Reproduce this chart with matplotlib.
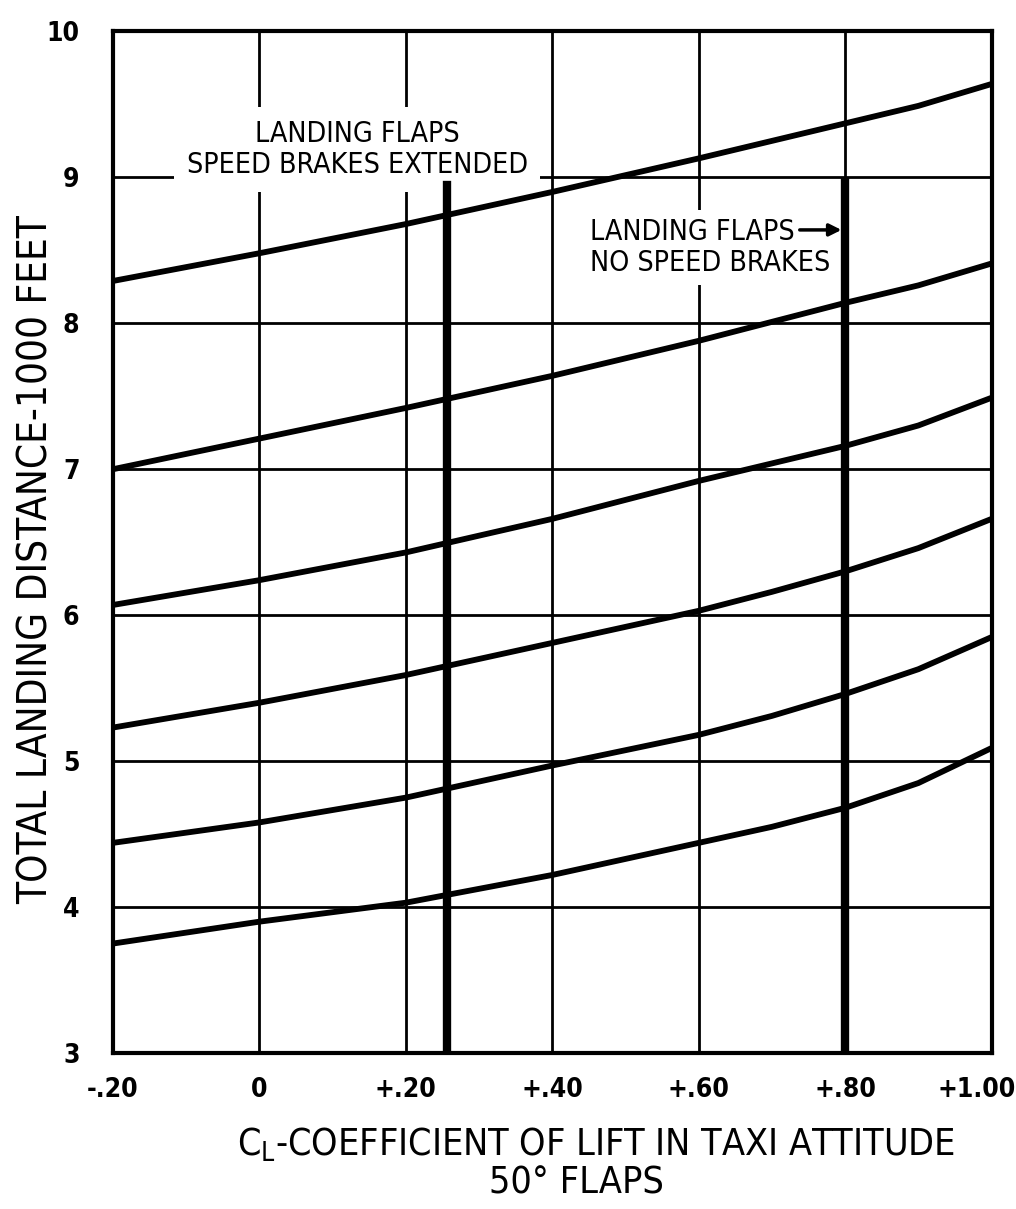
import matplotlib
matplotlib.use("Agg")
import matplotlib.pyplot as plt
from matplotlib.transforms import ScaledTranslation

plt.rcParams["font.family"] = ["DejaVu Sans"]
plt.rcParams["font.stretch"] = "condensed"

# lift coefficient in taxi attitude (x) and landing distance, 1000 ft (y)
cl = [-0.20, 0.0, 0.20, 0.40, 0.60, 0.70, 0.80, 0.90, 1.00]
dist_a = [8.29, 8.48, 8.68, 8.90, 9.13, 9.25, 9.37, 9.49, 9.64]
dist_b = [7.00, 7.21, 7.42, 7.64, 7.88, 8.01, 8.14, 8.26, 8.41]
dist_c = [6.07, 6.24, 6.43, 6.66, 6.92, 7.04, 7.16, 7.30, 7.49]
dist_d = [5.23, 5.40, 5.59, 5.81, 6.03, 6.16, 6.30, 6.46, 6.66]
dist_e = [4.44, 4.58, 4.75, 4.97, 5.18, 5.31, 5.46, 5.63, 5.85]
dist_f = [3.75, 3.90, 4.03, 4.22, 4.44, 4.55, 4.68, 4.85, 5.09]

# operating CL for the two landing configurations
cl_brakes = 0.257
cl_no_brakes = 0.80
marker_top = [8.95, 8.97]

x_ticks = [-0.20, 0.0, 0.20, 0.40, 0.60, 0.80, 1.00]
x_labels = ["-.20", "0", "+.20", "+.40", "+.60", "+.80", "+1.00"]
y_ticks = [3, 4, 5, 6, 7, 8, 9, 10]

fig = plt.figure(figsize=(10.16, 12.09), dpi=100)
ax = fig.add_axes([0.111, 0.129, 0.865, 0.845])

for d in (dist_a, dist_b, dist_c, dist_d, dist_e, dist_f):
    ax.plot(cl, d, color="black", lw=4.2, solid_capstyle="butt",
            solid_joinstyle="round", zorder=4)

ax.plot([cl_brakes, cl_brakes], [3, marker_top[0]], color="black", lw=6, zorder=5)
ax.plot([cl_no_brakes, cl_no_brakes], [3, marker_top[1]], color="black", lw=6, zorder=5)

ax.set_xlim(-0.20, 1.00)
ax.set_ylim(3, 10)
ax.set_xticks(x_ticks)
ax.set_xticklabels(x_labels)
ax.set_yticks(y_ticks)
ax.tick_params(length=0, labelsize=19)
ax.tick_params(axis="x", pad=17)
ax.tick_params(axis="y", pad=24)
for lab in ax.get_xticklabels() + ax.get_yticklabels():
    lab.set_fontweight("bold")
# pull the last label in so it stays on the sheet
last = ax.xaxis.get_major_ticks()[-1].label1
last.set_transform(last.get_transform() + ScaledTranslation(-0.15, 0, fig.dpi_scale_trans))
ax.grid(True, color="black", lw=2.0)
ax.set_axisbelow(True)
for sp in ax.spines.values():
    sp.set_linewidth(3)

ax.text(0.134, 9.19, "LANDING FLAPS\nSPEED BRAKES EXTENDED", ha="center",
        va="center", fontsize=20.5, linespacing=1.15, zorder=3,
        bbox=dict(facecolor="white", edgecolor="none", pad=9))
ax.text(0.451, 8.52, "LANDING FLAPS\nNO SPEED BRAKES", ha="left",
        va="center", fontsize=20.5, linespacing=1.15, zorder=3,
        bbox=dict(facecolor="white", edgecolor="none", pad=6))
ax.annotate("", xy=(0.795, 8.64), xytext=(0.738, 8.64), zorder=6,
            arrowprops=dict(arrowstyle="-|>", color="black", lw=2.5,
                            mutation_scale=18, shrinkA=0, shrinkB=0))

fig.text(0.036, 0.537, "TOTAL LANDING DISTANCE-1000 FEET", rotation=90,
         ha="center", va="center", fontsize=29)
fig.text(0.587, 0.053, r"$\mathregular{C_L}$-COEFFICIENT OF LIFT IN TAXI ATTITUDE",
         ha="center", va="center", fontsize=27)
fig.text(0.567, 0.021, "50° FLAPS", ha="center", va="center", fontsize=27)

fig.savefig("out.png", dpi=100, facecolor="white")
